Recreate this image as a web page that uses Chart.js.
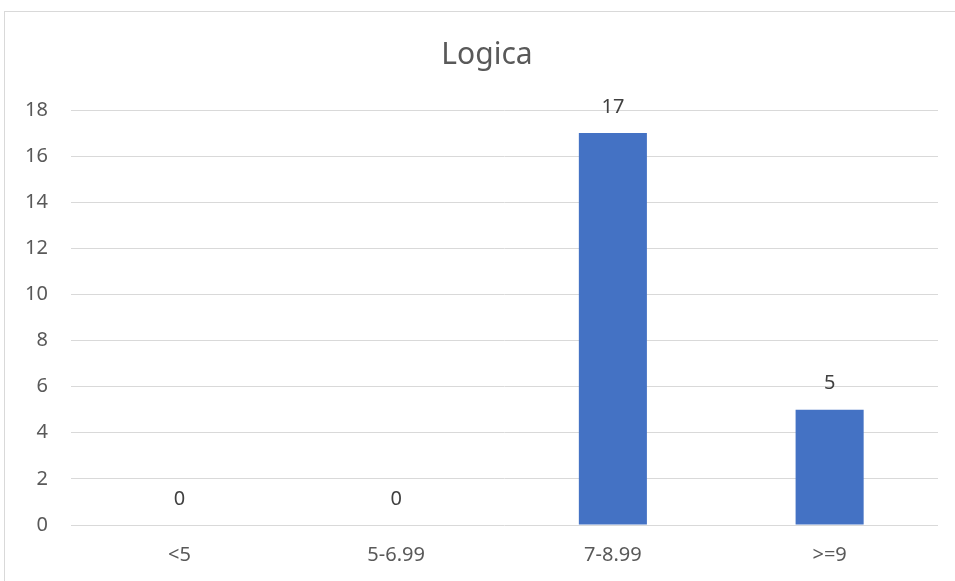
<!DOCTYPE html>
<html>
<head>
<meta charset="utf-8">
<script src="https://cdn.jsdelivr.net/npm/chart.js@4"></script>
<style>
  body { margin: 0; background: #fff; overflow: hidden; }
  #frame { position: absolute; left: 4px; top: 11px; width: 1000px; height: 700px; border: 1px solid #d9d9d9; }
  #wrap { position: absolute; left: 0; top: 0; width: 955px; height: 581px; }
</style>
</head>
<body>
<div id="frame"></div>
<div id="wrap"><canvas id="grafico" width="955" height="581"></canvas></div>
<script>
const categorias = ['<5', '5-6.99', '7-8.99', '>=9'];
const valores = [0, 0, 17, 5];
const titulo = 'Logica';

const fonte = '"Noto Sans", "Open Sans", sans-serif';

// titulo e rotulos acima das barras
const rotulos = {
    id: 'rotulos',
    afterDatasetsDraw(chart) {
        const ctx = chart.ctx;
        const meta = chart.getDatasetMeta(0);
        ctx.save();
        ctx.textAlign = 'center';
        ctx.textBaseline = 'middle';
        ctx.fillStyle = '#595959';
        ctx.font = '30px ' + fonte;
        ctx.fillText(titulo, 487, 55);
        ctx.fillStyle = '#404040';
        ctx.font = '20px ' + fonte;
        meta.data.forEach((bar, i) => {
            ctx.fillText(String(valores[i]), bar.x, bar.y - 26);
        });
        ctx.restore();
    }
};

const ctx = document.getElementById('grafico');

new Chart(ctx, {
    type: 'bar',
    data: {
        labels: categorias,
        datasets: [{
            label: titulo,
            data: valores,
            backgroundColor: '#4472c4',
            categoryPercentage: 1,
            barPercentage: 0.314
        }]
    },
    options: {
        responsive: false,
        animation: false,
        layout: { padding: { left: 0, right: 17, top: 110, bottom: 0 } },
        plugins: {
            legend: { display: false },
            tooltip: { enabled: false },
            title: { display: false }
        },
        scales: {
            x: {
                grid: { display: false, drawTicks: false },
                border: { display: false },
                ticks: { color: '#595959', font: { family: fonte, size: 20 }, padding: 18 },
                afterFit: s => { s.height = 56; }
            },
            y: {
                min: 0,
                max: 18,
                grid: { color: '#d9d9d9', lineWidth: 1, drawTicks: false },
                border: { display: false },
                ticks: { stepSize: 2, color: '#595959', font: { family: fonte, size: 20 }, padding: 23 },
                afterFit: s => { s.width = 71; }
            }
        }
    },
    plugins: [rotulos]
});
</script>
</body>
</html>
